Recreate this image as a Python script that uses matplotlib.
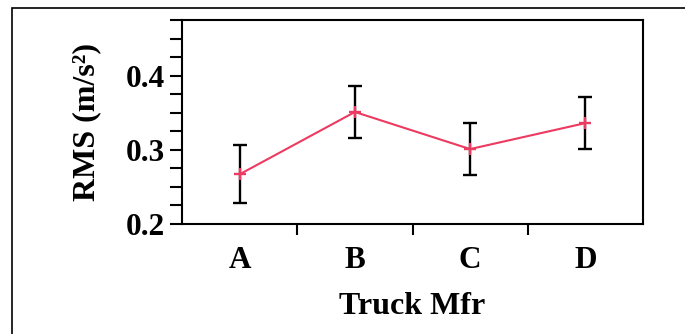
import matplotlib.pyplot as plt
from matplotlib.patches import Rectangle
from matplotlib.ticker import MultipleLocator, FixedLocator, NullFormatter

plt.rcParams['font.family'] = 'Liberation Serif'
plt.rcParams['font.weight'] = 'bold'

manufacturers = ['A', 'B', 'C', 'D']
rms_mean = [0.267, 0.351, 0.301, 0.336]
rms_err = [0.039, 0.035, 0.035, 0.035]

line_color = '#ec3a60'

fig = plt.figure(figsize=(6.85, 3.34), dpi=100)
ax = fig.add_axes([182 / 685, 1 - 224 / 334, 461 / 685, 204 / 334])

x = list(range(len(manufacturers)))

# error bars first, then the line on top
ax.errorbar(x, rms_mean, yerr=rms_err, fmt='none', ecolor='black',
            elinewidth=1.7, capsize=5, capthick=1.7, zorder=2)
ax.plot(x, rms_mean, color=line_color, lw=1.5, marker='+',
        markersize=8, markeredgewidth=1.7, zorder=3)

ax.set_xlim(-0.5, 3.5)
ax.set_ylim(0.2, 0.475)

# y ticks: labelled every 0.1, minor every 0.025
ax.yaxis.set_major_locator(FixedLocator([0.2, 0.3, 0.4]))
ax.yaxis.set_minor_locator(MultipleLocator(0.025))
ax.set_yticklabels(['0.2', '0.3', '0.4'])

# x: labels at the categories, ticks between them
ax.set_xticks(x)
ax.set_xticklabels(manufacturers)
ax.xaxis.set_minor_locator(FixedLocator([0.5, 1.5, 2.5]))
ax.xaxis.set_minor_formatter(NullFormatter())

ax.tick_params(axis='y', which='both', direction='out', length=9, width=1.5,
               labelsize=22.5, pad=3)
ax.tick_params(axis='x', which='major', length=0, labelsize=22.5, pad=16)
ax.tick_params(axis='x', which='minor', direction='out', length=8, width=1.5)

for s in ax.spines.values():
    s.set_linewidth(1.5)

ax.set_xlabel('Truck Mfr', fontsize=23, fontweight='bold', labelpad=12)
ax.set_ylabel('RMS (m/s²)', fontsize=23, fontweight='bold')
ax.yaxis.set_label_coords(-0.175, 0.5)

# outer frame running off the right and bottom edges
fig.patches.append(Rectangle((12 / 685, -0.2), 1.5, 1.2 - 8 / 334,
                             transform=fig.transFigure, fill=False,
                             edgecolor='black', lw=1.2))

fig.savefig('out.png', dpi=100)
